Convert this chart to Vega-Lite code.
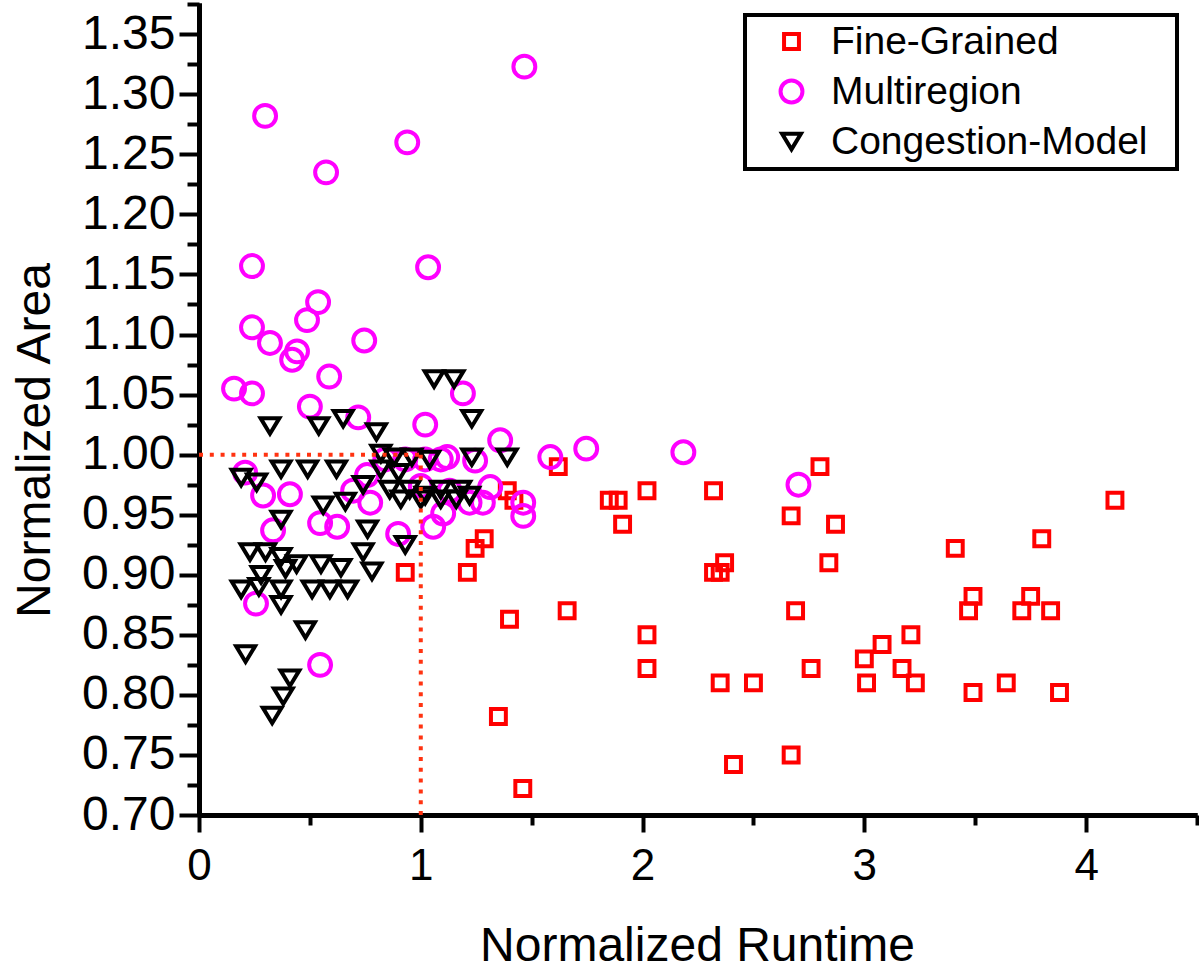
{
  "$schema": "https://vega.github.io/schema/vega-lite/v6.json",
  "width": 998,
  "height": 812,
  "autosize": {"type": "none"},
  "padding": {"left": 199, "top": 3, "right": 2, "bottom": 154},
  "background": "white",
  "config": {"view": {"stroke": null}, "font": "Liberation Sans", "legend": {"strokeWidth": 4}},
  "datasets": {
    "pts": [
      {"method": "Fine-Grained", "runtime": 0.93, "area": 0.902},
      {"method": "Fine-Grained", "runtime": 1.21, "area": 0.902},
      {"method": "Fine-Grained", "runtime": 1.245, "area": 0.922},
      {"method": "Fine-Grained", "runtime": 1.286, "area": 0.930},
      {"method": "Fine-Grained", "runtime": 1.40, "area": 0.863},
      {"method": "Fine-Grained", "runtime": 1.35, "area": 0.782},
      {"method": "Fine-Grained", "runtime": 1.46, "area": 0.722},
      {"method": "Fine-Grained", "runtime": 1.39, "area": 0.970},
      {"method": "Fine-Grained", "runtime": 1.42, "area": 0.962},
      {"method": "Fine-Grained", "runtime": 1.62, "area": 0.990},
      {"method": "Fine-Grained", "runtime": 1.66, "area": 0.870},
      {"method": "Fine-Grained", "runtime": 2.80, "area": 0.990},
      {"method": "Fine-Grained", "runtime": 2.02, "area": 0.970},
      {"method": "Fine-Grained", "runtime": 2.32, "area": 0.970},
      {"method": "Fine-Grained", "runtime": 1.85, "area": 0.962},
      {"method": "Fine-Grained", "runtime": 1.89, "area": 0.962},
      {"method": "Fine-Grained", "runtime": 1.91, "area": 0.942},
      {"method": "Fine-Grained", "runtime": 2.67, "area": 0.949},
      {"method": "Fine-Grained", "runtime": 2.87, "area": 0.942},
      {"method": "Fine-Grained", "runtime": 2.37, "area": 0.910},
      {"method": "Fine-Grained", "runtime": 2.32, "area": 0.902},
      {"method": "Fine-Grained", "runtime": 2.35, "area": 0.902},
      {"method": "Fine-Grained", "runtime": 2.84, "area": 0.910},
      {"method": "Fine-Grained", "runtime": 2.69, "area": 0.870},
      {"method": "Fine-Grained", "runtime": 2.02, "area": 0.850},
      {"method": "Fine-Grained", "runtime": 2.02, "area": 0.822},
      {"method": "Fine-Grained", "runtime": 2.35, "area": 0.810},
      {"method": "Fine-Grained", "runtime": 2.50, "area": 0.810},
      {"method": "Fine-Grained", "runtime": 2.76, "area": 0.822},
      {"method": "Fine-Grained", "runtime": 3.08, "area": 0.842},
      {"method": "Fine-Grained", "runtime": 3.00, "area": 0.830},
      {"method": "Fine-Grained", "runtime": 3.01, "area": 0.810},
      {"method": "Fine-Grained", "runtime": 2.41, "area": 0.742},
      {"method": "Fine-Grained", "runtime": 2.67, "area": 0.750},
      {"method": "Fine-Grained", "runtime": 4.13, "area": 0.962},
      {"method": "Fine-Grained", "runtime": 3.80, "area": 0.930},
      {"method": "Fine-Grained", "runtime": 3.41, "area": 0.922},
      {"method": "Fine-Grained", "runtime": 3.49, "area": 0.882},
      {"method": "Fine-Grained", "runtime": 3.47, "area": 0.870},
      {"method": "Fine-Grained", "runtime": 3.75, "area": 0.882},
      {"method": "Fine-Grained", "runtime": 3.71, "area": 0.870},
      {"method": "Fine-Grained", "runtime": 3.84, "area": 0.870},
      {"method": "Fine-Grained", "runtime": 3.21, "area": 0.850},
      {"method": "Fine-Grained", "runtime": 3.17, "area": 0.822},
      {"method": "Fine-Grained", "runtime": 3.23, "area": 0.810},
      {"method": "Fine-Grained", "runtime": 3.49, "area": 0.802},
      {"method": "Fine-Grained", "runtime": 3.64, "area": 0.810},
      {"method": "Fine-Grained", "runtime": 3.88, "area": 0.802},
      {"method": "Multiregion", "runtime": 1.467, "area": 1.323},
      {"method": "Multiregion", "runtime": 0.298, "area": 1.282},
      {"method": "Multiregion", "runtime": 0.939, "area": 1.260},
      {"method": "Multiregion", "runtime": 0.573, "area": 1.235},
      {"method": "Multiregion", "runtime": 0.239, "area": 1.157},
      {"method": "Multiregion", "runtime": 1.033, "area": 1.156},
      {"method": "Multiregion", "runtime": 0.537, "area": 1.127},
      {"method": "Multiregion", "runtime": 0.487, "area": 1.112},
      {"method": "Multiregion", "runtime": 0.239, "area": 1.106},
      {"method": "Multiregion", "runtime": 0.32, "area": 1.093},
      {"method": "Multiregion", "runtime": 0.442, "area": 1.086},
      {"method": "Multiregion", "runtime": 0.42, "area": 1.079},
      {"method": "Multiregion", "runtime": 0.745, "area": 1.095},
      {"method": "Multiregion", "runtime": 0.587, "area": 1.065},
      {"method": "Multiregion", "runtime": 0.158, "area": 1.055},
      {"method": "Multiregion", "runtime": 0.239, "area": 1.051},
      {"method": "Multiregion", "runtime": 0.50, "area": 1.040},
      {"method": "Multiregion", "runtime": 1.19, "area": 1.051},
      {"method": "Multiregion", "runtime": 1.02, "area": 1.025},
      {"method": "Multiregion", "runtime": 0.718, "area": 1.031},
      {"method": "Multiregion", "runtime": 1.358, "area": 1.012},
      {"method": "Multiregion", "runtime": 1.746, "area": 1.005},
      {"method": "Multiregion", "runtime": 2.184, "area": 1.002},
      {"method": "Multiregion", "runtime": 1.584, "area": 0.998},
      {"method": "Multiregion", "runtime": 2.703, "area": 0.975},
      {"method": "Multiregion", "runtime": 0.208, "area": 0.985},
      {"method": "Multiregion", "runtime": 0.289, "area": 0.966},
      {"method": "Multiregion", "runtime": 0.41, "area": 0.967},
      {"method": "Multiregion", "runtime": 0.695, "area": 0.970},
      {"method": "Multiregion", "runtime": 0.758, "area": 0.983},
      {"method": "Multiregion", "runtime": 0.334, "area": 0.937},
      {"method": "Multiregion", "runtime": 0.546, "area": 0.943},
      {"method": "Multiregion", "runtime": 0.623, "area": 0.940},
      {"method": "Multiregion", "runtime": 0.772, "area": 0.960},
      {"method": "Multiregion", "runtime": 0.898, "area": 0.934},
      {"method": "Multiregion", "runtime": 1.056, "area": 0.940},
      {"method": "Multiregion", "runtime": 1.101, "area": 0.951},
      {"method": "Multiregion", "runtime": 1.119, "area": 0.998},
      {"method": "Multiregion", "runtime": 1.313, "area": 0.973},
      {"method": "Multiregion", "runtime": 1.462, "area": 0.960},
      {"method": "Multiregion", "runtime": 1.462, "area": 0.949},
      {"method": "Multiregion", "runtime": 1.245, "area": 0.995},
      {"method": "Multiregion", "runtime": 0.257, "area": 0.876},
      {"method": "Multiregion", "runtime": 0.546, "area": 0.825},
      {"method": "Multiregion", "runtime": 0.84, "area": 0.996},
      {"method": "Multiregion", "runtime": 0.93, "area": 0.996},
      {"method": "Multiregion", "runtime": 1.02, "area": 0.996},
      {"method": "Multiregion", "runtime": 1.09, "area": 0.996},
      {"method": "Multiregion", "runtime": 1.0, "area": 0.974},
      {"method": "Multiregion", "runtime": 1.13, "area": 0.970},
      {"method": "Multiregion", "runtime": 1.28, "area": 0.960},
      {"method": "Multiregion", "runtime": 1.22, "area": 0.960},
      {"method": "Congestion-Model", "runtime": 1.06, "area": 1.063},
      {"method": "Congestion-Model", "runtime": 1.15, "area": 1.063},
      {"method": "Congestion-Model", "runtime": 0.32, "area": 1.024},
      {"method": "Congestion-Model", "runtime": 0.54, "area": 1.024},
      {"method": "Congestion-Model", "runtime": 0.65, "area": 1.030},
      {"method": "Congestion-Model", "runtime": 1.23, "area": 1.030},
      {"method": "Congestion-Model", "runtime": 0.80, "area": 1.019},
      {"method": "Congestion-Model", "runtime": 0.82, "area": 1.001},
      {"method": "Congestion-Model", "runtime": 0.88, "area": 0.998},
      {"method": "Congestion-Model", "runtime": 0.96, "area": 0.998},
      {"method": "Congestion-Model", "runtime": 1.04, "area": 0.996},
      {"method": "Congestion-Model", "runtime": 1.23, "area": 0.998},
      {"method": "Congestion-Model", "runtime": 1.39, "area": 0.998},
      {"method": "Congestion-Model", "runtime": 0.19, "area": 0.981},
      {"method": "Congestion-Model", "runtime": 0.26, "area": 0.977},
      {"method": "Congestion-Model", "runtime": 0.37, "area": 0.988},
      {"method": "Congestion-Model", "runtime": 0.49, "area": 0.988},
      {"method": "Congestion-Model", "runtime": 0.62, "area": 0.988},
      {"method": "Congestion-Model", "runtime": 0.82, "area": 0.988},
      {"method": "Congestion-Model", "runtime": 0.90, "area": 0.985},
      {"method": "Congestion-Model", "runtime": 0.56, "area": 0.958},
      {"method": "Congestion-Model", "runtime": 0.66, "area": 0.961},
      {"method": "Congestion-Model", "runtime": 0.86, "area": 0.971},
      {"method": "Congestion-Model", "runtime": 0.95, "area": 0.971},
      {"method": "Congestion-Model", "runtime": 1.02, "area": 0.966},
      {"method": "Congestion-Model", "runtime": 1.09, "area": 0.971},
      {"method": "Congestion-Model", "runtime": 1.18, "area": 0.971},
      {"method": "Congestion-Model", "runtime": 0.91, "area": 0.963},
      {"method": "Congestion-Model", "runtime": 1.00, "area": 0.963},
      {"method": "Congestion-Model", "runtime": 1.09, "area": 0.963},
      {"method": "Congestion-Model", "runtime": 1.16, "area": 0.963},
      {"method": "Congestion-Model", "runtime": 1.22, "area": 0.966},
      {"method": "Congestion-Model", "runtime": 0.74, "area": 0.975},
      {"method": "Congestion-Model", "runtime": 0.37, "area": 0.946},
      {"method": "Congestion-Model", "runtime": 0.76, "area": 0.938},
      {"method": "Congestion-Model", "runtime": 0.93, "area": 0.925},
      {"method": "Congestion-Model", "runtime": 0.74, "area": 0.919},
      {"method": "Congestion-Model", "runtime": 0.78, "area": 0.903},
      {"method": "Congestion-Model", "runtime": 0.23, "area": 0.919},
      {"method": "Congestion-Model", "runtime": 0.30, "area": 0.919},
      {"method": "Congestion-Model", "runtime": 0.37, "area": 0.915},
      {"method": "Congestion-Model", "runtime": 0.44, "area": 0.909},
      {"method": "Congestion-Model", "runtime": 0.55, "area": 0.909},
      {"method": "Congestion-Model", "runtime": 0.64, "area": 0.906},
      {"method": "Congestion-Model", "runtime": 0.28, "area": 0.900},
      {"method": "Congestion-Model", "runtime": 0.39, "area": 0.905},
      {"method": "Congestion-Model", "runtime": 0.19, "area": 0.888},
      {"method": "Congestion-Model", "runtime": 0.27, "area": 0.890},
      {"method": "Congestion-Model", "runtime": 0.37, "area": 0.888},
      {"method": "Congestion-Model", "runtime": 0.51, "area": 0.888},
      {"method": "Congestion-Model", "runtime": 0.59, "area": 0.888},
      {"method": "Congestion-Model", "runtime": 0.67, "area": 0.888},
      {"method": "Congestion-Model", "runtime": 0.37, "area": 0.875},
      {"method": "Congestion-Model", "runtime": 0.48, "area": 0.854},
      {"method": "Congestion-Model", "runtime": 0.21, "area": 0.834},
      {"method": "Congestion-Model", "runtime": 0.41, "area": 0.814},
      {"method": "Congestion-Model", "runtime": 0.38, "area": 0.799},
      {"method": "Congestion-Model", "runtime": 0.33, "area": 0.783}
    ],
    "ref": [
      {"x0": 0, "x1": 1, "y0": 1.0, "y1": 1.0},
      {"x0": 1, "x1": 1, "y0": 0.7, "y1": 1.0}
    ]
  },
  "layer": [
    {
      "data": {"name": "pts"},
      "mark": {"type": "point", "filled": false, "strokeWidth": 4, "opacity": 1, "size": 480},
      "encoding": {
        "x": {
          "field": "runtime", "type": "quantitative",
          "scale": {"domain": [0, 4.5], "nice": false, "zero": false},
          "axis": {
            "orient": "bottom", "values": [0, 1, 2, 3, 4], "format": "d", "grid": false,
            "tickSize": 17, "tickWidth": 4, "tickColor": "black",
            "domainWidth": 5, "domainColor": "black",
            "labelFontSize": 44, "labelFont": "Liberation Sans", "labelColor": "black",
            "labelBaseline": "alphabetic", "labelPadding": 47, "labelFlush": false, "labelOverlap": false,
            "title": "Normalized Runtime", "titleFontSize": 48, "titleFont": "Liberation Sans",
            "titleFontWeight": "normal", "titleColor": "black",
            "titleX": 498, "titleY": 145, "titleBaseline": "alphabetic", "titleAlign": "center"
          }
        },
        "y": {
          "field": "area", "type": "quantitative",
          "scale": {"domain": [0.7, 1.376], "nice": false, "zero": false},
          "axis": {
            "orient": "left", "values": [0.7, 0.75, 0.8, 0.85, 0.9, 0.95, 1.0, 1.05, 1.1, 1.15, 1.2, 1.25, 1.3, 1.35],
            "format": ".2f", "grid": false,
            "tickSize": 20, "tickWidth": 4, "tickColor": "black",
            "domainWidth": 5, "domainColor": "black",
            "labelFontSize": 48, "labelFont": "Liberation Sans", "labelColor": "black",
            "labelPadding": 4, "labelFlush": false, "labelOverlap": false, "labelBaseline": "middle",
            "title": "Normalized Area", "titleFontSize": 48, "titleFont": "Liberation Sans",
            "titleFontWeight": "normal", "titleColor": "black",
            "titleX": -150, "titleY": 437, "titleAngle": -90, "titleAlign": "center", "titleBaseline": "alphabetic"
          }
        },
        "color": {
          "field": "method", "type": "nominal",
          "scale": {"domain": ["Fine-Grained", "Multiregion", "Congestion-Model"], "range": ["#ff0000", "#ff00ff", "#000000"]},
          "legend": {
            "title": "\u00a0", "titleOrient": "right", "titlePadding": 22, "titleFontSize": 12,
            "orient": "none", "legendX": 546, "legendY": 12,
            "labelFontSize": 39, "labelFont": "Liberation Sans", "labelColor": "black", "labelLimit": 600,
            "symbolSize": 480, "symbolStrokeWidth": 4,
            "padding": 7, "rowPadding": 10, "symbolOffset": 20, "labelOffset": 20,
            "strokeColor": "black", "fillColor": "white"
          }
        },
        "shape": {
          "field": "method", "type": "nominal",
          "scale": {
            "domain": ["Fine-Grained", "Multiregion", "Congestion-Model"],
            "range": ["M-0.68,-0.68L0.68,-0.68L0.68,0.68L-0.68,0.68Z", "circle", "M-0.86,-0.7L0.86,-0.7L0,0.72Z"]
          }
        }
      }
    },
    {
      "data": {"name": "ref"},
      "mark": {"type": "rule", "color": "#ff3311", "strokeWidth": 4, "strokeDash": [4, 6.8]},
      "encoding": {
        "x": {
          "field": "x0", "type": "quantitative",
          "scale": {"domain": [0, 4.5], "nice": false, "zero": false},
          "axis": {
            "orient": "bottom", "values": [0.5, 1.5, 2.5, 3.5, 4.5], "labels": false, "grid": false,
            "tickSize": 10, "tickWidth": 4, "tickColor": "black",
            "domainWidth": 5, "domainColor": "black", "title": null
          }
        },
        "x2": {"field": "x1"},
        "y": {
          "field": "y0", "type": "quantitative",
          "scale": {"domain": [0.7, 1.376], "nice": false, "zero": false},
          "axis": {
            "orient": "left", "values": [0.725, 0.775, 0.825, 0.875, 0.925, 0.975, 1.025, 1.075, 1.125, 1.175, 1.225, 1.275, 1.325, 1.375],
            "labels": false, "grid": false,
            "tickSize": 12, "tickWidth": 4, "tickColor": "black",
            "domainWidth": 5, "domainColor": "black", "title": null
          }
        },
        "y2": {"field": "y1"}
      }
    }
  ],
  "resolve": {"axis": {"x": "independent", "y": "independent"}}
}
